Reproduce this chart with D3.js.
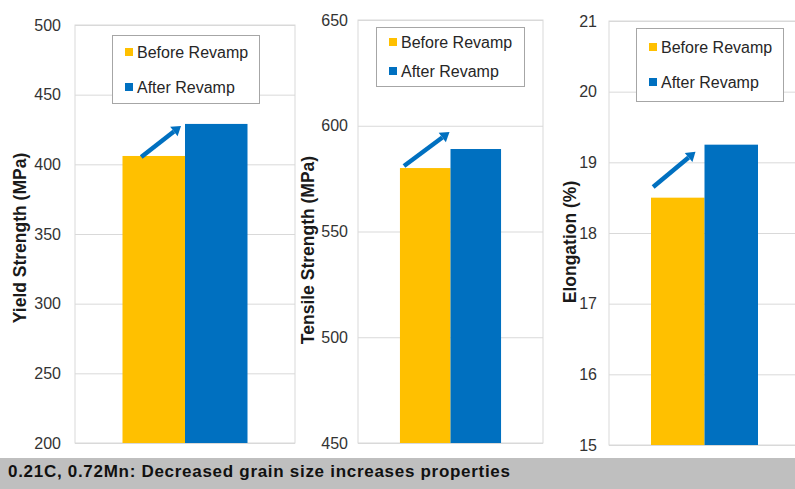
<!DOCTYPE html>
<html>
<head>
<meta charset="utf-8">
<script src="https://cdn.jsdelivr.net/npm/d3@7"></script>
<style>
  html, body { margin: 0; padding: 0; background: #fff; }
  svg { display: block; font-family: Arial, "Liberation Sans", sans-serif; }
</style>
</head>
<body>
<svg id="chart" width="795" height="489"></svg>
<script>
// ---- data ----
const series = ["Before Revamp", "After Revamp"];
const seriesColors = ["#FFC000", "#0070C0"];
const yieldStrength = [406, 429];
const tensileStrength = [580, 589];
const elongation = [18.5, 19.25];
const yieldTicks = [200, 250, 300, 350, 400, 450, 500];
const tensileTicks = [450, 500, 550, 600, 650];
const elongationTicks = [15, 16, 17, 18, 19, 20, 21];
const axisTitles = ["Yield Strength (MPa)", "Tensile Strength (MPa)", "Elongation (%)"];
// arrow annotation endpoints (data units): [start, end]
const yieldArrow = [405.3, 427.5];
const tensileArrow = [581, 597];
const elongationArrow = [18.65, 19.15];
const caption = "0.21C, 0.72Mn: Decreased grain size increases properties";

// ---- layout ----
const panels = [
  { values: yieldStrength, ticks: yieldTicks, title: axisTitles[0], arrow: yieldArrow,
    left: 75, right: 295, top: 25, bottom: 443, pad: 0.76, gap: 14,
    legend: { x: 112, y: 35, w: 147, h: 68, r1: 52, r2: 87 }, titleX: 20, titleY: 238,
    arrowX: [0.3, -4] },
  { values: tensileStrength, ticks: tensileTicks, title: axisTitles[1], arrow: tensileArrow,
    left: 358, right: 543, top: 20, bottom: 443, pad: 0.83, gap: 10,
    legend: { x: 376, y: 27, w: 148, h: 59, r1: 42, r2: 71 }, titleX: 308, titleY: 250,
    arrowX: [0.08, -1] },
  { values: elongation, ticks: elongationTicks, title: axisTitles[2], arrow: elongationArrow,
    left: 609, right: 800, top: 21, bottom: 445, pad: 0.785, gap: 12,
    legend: { x: 636, y: 28, w: 147, h: 73, r1: 47, r2: 82 }, titleX: 570, titleY: 242,
    arrowX: [0.04, -9] }
];

const svg = d3.select("#chart");
svg.append("rect").attr("width", 795).attr("height", 489).attr("fill", "#fff");

panels.forEach(p => {
  const g = svg.append("g");
  const y = d3.scaleLinear()
    .domain([p.ticks[0], p.ticks[p.ticks.length - 1]])
    .range([p.bottom, p.top]);
  const x = d3.scaleBand().domain(series).range([p.left, p.right])
    .paddingInner(0).paddingOuter(p.pad);

  // gridlines + tick labels
  const axis = d3.axisLeft(y).tickValues(p.ticks).tickSize(-(p.right - p.left))
    .tickSizeOuter(0).tickPadding(p.gap).tickFormat(d3.format("d"));
  const ag = g.append("g").attr("transform", `translate(${p.left},0)`).call(axis);
  ag.select(".domain").remove();
  ag.selectAll(".tick line").attr("stroke", "#d9d9d9").attr("stroke-width", 1);
  ag.selectAll(".tick text").attr("font-size", 16).attr("fill", "#333")
    .attr("font-family", "Arial, 'Liberation Sans', sans-serif");

  // plot border
  g.append("rect").attr("x", p.left).attr("y", p.top)
    .attr("width", p.right - p.left).attr("height", p.bottom - p.top)
    .attr("fill", "none").attr("stroke", "#d9d9d9");

  // bars
  g.selectAll(".bar").data(p.values).join("rect")
    .attr("x", (d, i) => x(series[i]))
    .attr("y", d => y(d))
    .attr("width", x.bandwidth())
    .attr("height", d => y(p.ticks[0]) - y(d))
    .attr("fill", (d, i) => seriesColors[i]);

  // arrow annotation
  const x1 = x(series[0]) + p.arrowX[0] * x.bandwidth();
  const x2 = x(series[1]) + p.arrowX[1];
  const y1 = y(p.arrow[0]), y2 = y(p.arrow[1]);
  const ang = Math.atan2(y2 - y1, x2 - x1);
  const headLen = 9, headW = 6;
  const bx = x2 - headLen * Math.cos(ang), by = y2 - headLen * Math.sin(ang);
  g.append("line").attr("x1", x1).attr("y1", y1).attr("x2", bx).attr("y2", by)
    .attr("stroke", "#0070C0").attr("stroke-width", 4.5);
  g.append("path")
    .attr("d", d3.line()([
      [x2, y2],
      [bx + headW * Math.sin(ang), by - headW * Math.cos(ang)],
      [bx - headW * Math.sin(ang), by + headW * Math.cos(ang)]
    ]) + "Z")
    .attr("fill", "#0070C0");

  // legend
  const L = p.legend;
  g.append("rect").attr("x", L.x + 0.5).attr("y", L.y + 0.5).attr("width", L.w).attr("height", L.h)
    .attr("fill", "#fff").attr("stroke", "#a6a6a6");
  [L.r1, L.r2].forEach((ry, i) => {
    g.append("rect").attr("x", L.x + 13).attr("y", ry - 4).attr("width", 8).attr("height", 8)
      .attr("fill", seriesColors[i]);
    g.append("text").attr("x", L.x + 25).attr("y", ry).attr("dominant-baseline", "central")
      .attr("font-size", 16).attr("fill", "#262626").text(series[i]);
  });

  // axis title
  g.append("text").attr("transform", `translate(${p.titleX},${p.titleY}) rotate(-90)`)
    .attr("text-anchor", "middle").attr("dominant-baseline", "central")
    .attr("font-size", 17.5).attr("font-weight", "bold").attr("fill", "#1a1a1a")
    .text(p.title);
});

// caption banner
svg.append("rect").attr("x", 0).attr("y", 458).attr("width", 795).attr("height", 31)
  .attr("fill", "#bfbfbf");
svg.append("text").attr("x", 8).attr("y", 477)
  .attr("font-size", 17).attr("font-weight", "bold").attr("fill", "#111")
  .attr("textLength", 502).attr("lengthAdjust", "spacing")
  .text(caption);
</script>
</body>
</html>
